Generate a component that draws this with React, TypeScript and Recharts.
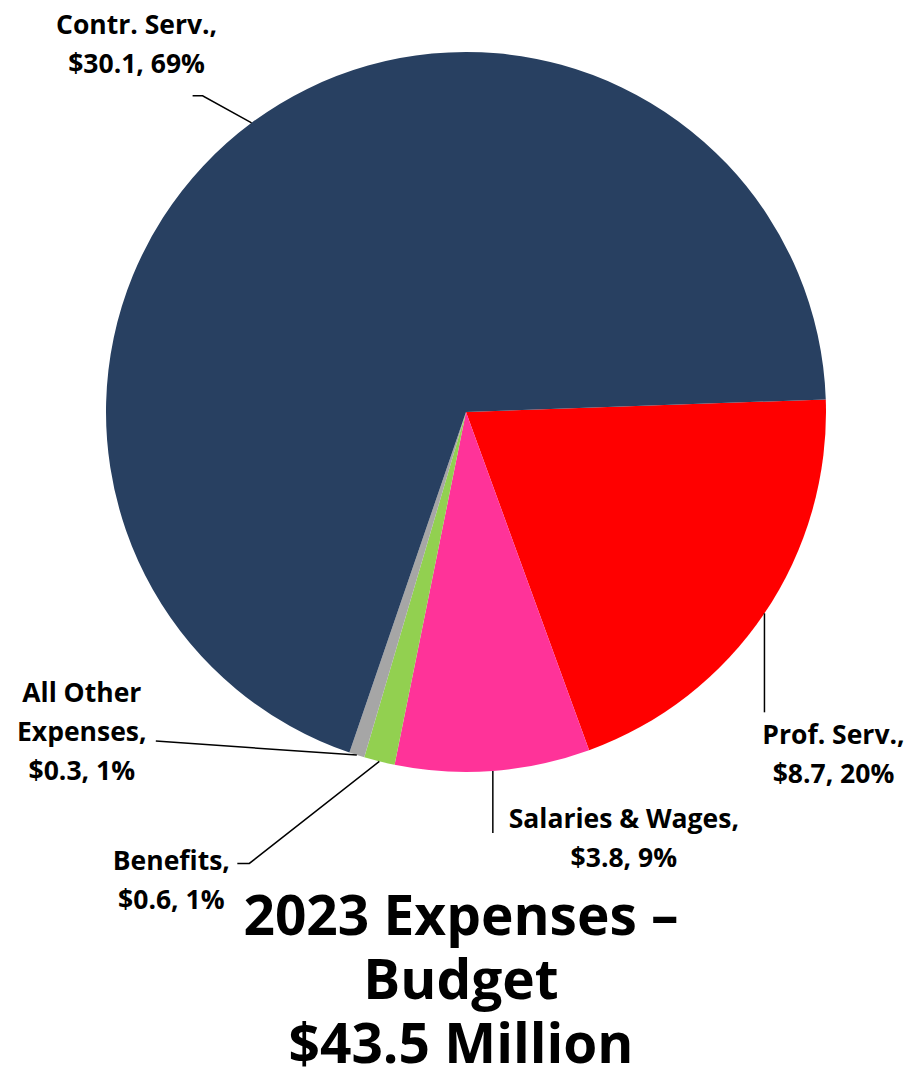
import { PieChart, Pie, Cell } from 'recharts'

const categories = ['Prof. Serv.', 'Salaries & Wages', 'Benefits', 'All Other Expenses', 'Contr. Serv.']
const amounts = [8.7, 3.8, 0.6, 0.3, 30.1]
const colors = ['#FF0000', '#FF3399', '#92D050', '#A6A6A6', '#284061']
const titleLines = ['2023 Expenses \u2013', 'Budget', '$43.5 Million']

// label placement, relative to the point where the slice's mid angle meets the rim
const labelLayout: Record<string, { lines: string[]; path: number[][]; dx: number; dy: number }> = {
  'Prof. Serv.': { lines: ['Prof. Serv.,'], path: [[0, 0], [0, 99]], dx: 69, dy: 131 },
  'Salaries & Wages': { lines: ['Salaries & Wages,'], path: [[0, 0], [0, 62]], dx: 131, dy: 57 },
  'Benefits': { lines: ['Benefits,'], path: [[0, 0], [-130, 102], [-142, 102]], dx: -208, dy: 109 },
  'All Other Expenses': { lines: ['All Other', 'Expenses,'], path: [[0, 0], [-201, -14]], dx: -275, dy: -53 },
  'Contr. Serv.': { lines: ['Contr. Serv.,'], path: [[0, 0], [-49, -27], [-59, -27]], dx: -115, dy: -89 },
}

const data = categories.map((name, i) => ({ name, value: amounts[i] }))
const total = amounts.reduce((a, b) => a + b, 0)
const FONT = '"Open Sans", Lato, sans-serif'
const RAD = Math.PI / 180

function SliceLabel(props: any) {
  const { cx, cy, midAngle, outerRadius, name, value } = props
  const layout = labelLayout[name]
  if (!layout) return null
  const ex = cx + outerRadius * Math.cos(-midAngle * RAD)
  const ey = cy + outerRadius * Math.sin(-midAngle * RAD)
  const pts = layout.path.map(([px, py]) => `${ex + px},${ey + py}`).join(' ')
  const pct = Math.round((value / total) * 100)
  const lines = [...layout.lines, `$${value.toFixed(1)}, ${pct}%`]
  return (
    <g>
      <polyline points={pts} fill="none" stroke="#000" strokeWidth={1.5} />
      <text x={ex + layout.dx} y={ey + layout.dy} textAnchor="middle" fill="#000"
        style={{ fontFamily: FONT, fontWeight: 700, fontSize: 26.5 }}>
        {lines.map((l, i) => (
          <tspan key={i} x={ex + layout.dx} dy={i === 0 ? 0 : 39}>{l}</tspan>
        ))}
      </text>
    </g>
  )
}

export default function App() {
  return (
    <div style={{ position: 'relative', width: 908, height: 1070, background: '#fff' }}>
      <style>{'body{margin:0}'}</style>
      <PieChart width={908} height={1070} margin={{ top: 0, right: 0, bottom: 0, left: 0 }}>
        <Pie
          data={data}
          dataKey="value"
          nameKey="name"
          cx={466}
          cy={412}
          outerRadius={360}
          startAngle={2}
          endAngle={-358}
          stroke="none"
          label={SliceLabel}
          labelLine={false}
          isAnimationActive={false}
        >
          {data.map((d, i) => <Cell key={d.name} fill={colors[i]} />)}
        </Pie>
      </PieChart>
      <svg width={908} height={1070} style={{ position: 'absolute', left: 0, top: 0, pointerEvents: 'none' }}>
        <text textAnchor="middle" fill="#000" style={{ fontFamily: FONT, fontWeight: 700, fontSize: 55 }}>
          {titleLines.map((l, i) => (
            <tspan key={i} x={461} y={935 + i * 64}>{l}</tspan>
          ))}
        </text>
      </svg>
    </div>
  )
}
